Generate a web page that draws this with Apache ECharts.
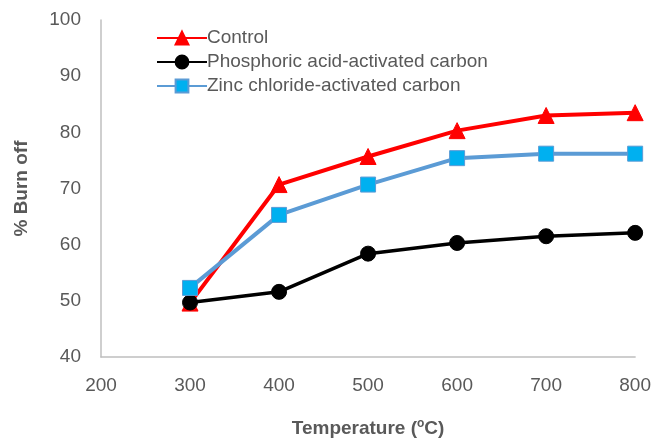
<!DOCTYPE html>
<html>
<head>
<meta charset="utf-8">
<script src="https://cdn.jsdelivr.net/npm/echarts@6/dist/echarts.min.js"></script>
<style>
  html, body { margin: 0; padding: 0; background: #fff; }
  #chart { width: 654px; height: 443px; }
</style>
</head>
<body>
<div id="chart"></div>
<script>
// Burn-off (%) versus activation temperature
const temperatures = [300, 400, 500, 600, 700, 800];
const controlValues = [49.6, 70.7, 75.7, 80.3, 83.0, 83.5];
const phosphoricValues = [49.7, 51.6, 58.4, 60.3, 61.5, 62.1];
const zincValues = [52.3, 65.3, 70.7, 75.4, 76.2, 76.2];
const seriesNames = ['Control', 'Phosphoric acid-activated carbon', 'Zinc chloride-activated carbon'];

const FONT = '"Liberation Sans", "DejaVu Sans", sans-serif';
const TEXT_COLOR = '#595959';
const pairs = vals => temperatures.map((t, i) => [t, vals[i]]);

const chart = echarts.init(document.getElementById('chart'), null, { renderer: 'canvas' });
chart.setOption({
  animation: false,
  backgroundColor: '#ffffff',
  grid: { left: 101, top: 20, right: 18, bottom: 86, containLabel: false },
  legend: {
    orient: 'vertical',
    left: 151,
    top: 23,
    itemGap: 4,
    itemWidth: 50,
    itemHeight: 16,
    textStyle: { fontFamily: FONT, fontSize: 19, lineHeight: 20, color: TEXT_COLOR, padding: [0, 0, 0, -5] },
    data: seriesNames
  },
  xAxis: {
    type: 'value',
    min: 200, max: 800, interval: 100,
    axisLine: { show: true, lineStyle: { color: '#bfbfbf', width: 1.5 } },
    axisTick: { show: false },
    splitLine: { show: false },
    axisLabel: { fontFamily: FONT, fontSize: 19, color: TEXT_COLOR, margin: 19 },
    name: '{t|Temperature (}{s|o}{t|C)}',
    nameLocation: 'middle',
    nameGap: 61,
    nameTextStyle: {
      rich: {
        t: { fontFamily: FONT, fontSize: 19, fontWeight: 'bold', color: TEXT_COLOR },
        s: { fontFamily: FONT, fontSize: 12, fontWeight: 'bold', color: TEXT_COLOR, verticalAlign: 'top', padding: [0, 0, 9, 0] }
      }
    }
  },
  yAxis: {
    type: 'value',
    min: 40, max: 100, interval: 10,
    axisLine: { show: true, lineStyle: { color: '#bfbfbf', width: 1.5 } },
    axisTick: { show: false },
    splitLine: { show: false },
    axisLabel: { fontFamily: FONT, fontSize: 19, color: TEXT_COLOR, margin: 20 },
    name: '% Burn off',
    nameLocation: 'middle',
    nameGap: 70,
    nameTextStyle: { fontFamily: FONT, fontSize: 19, fontWeight: 'bold', color: TEXT_COLOR }
  },
  series: [
    {
      name: seriesNames[0],
      type: 'line',
      data: pairs(controlValues),
      symbol: 'triangle',
      symbolSize: 16,
      lineStyle: { color: '#ff0000', width: 4 },
      itemStyle: { color: '#ff0000', borderColor: '#ff0000', borderWidth: 1 },
      z: 2
    },
    {
      name: seriesNames[1],
      type: 'line',
      data: pairs(phosphoricValues),
      symbol: 'circle',
      symbolSize: 15,
      lineStyle: { color: '#000000', width: 3.5 },
      itemStyle: { color: '#000000', borderColor: '#000000', borderWidth: 1 },
      z: 3
    },
    {
      name: seriesNames[2],
      type: 'line',
      data: pairs(zincValues),
      symbol: 'rect',
      symbolSize: 15,
      lineStyle: { color: '#5b9bd5', width: 4 },
      itemStyle: { color: '#00b0f0', borderColor: '#5b9bd5', borderWidth: 1 },
      z: 4
    }
  ]
});
</script>
</body>
</html>
